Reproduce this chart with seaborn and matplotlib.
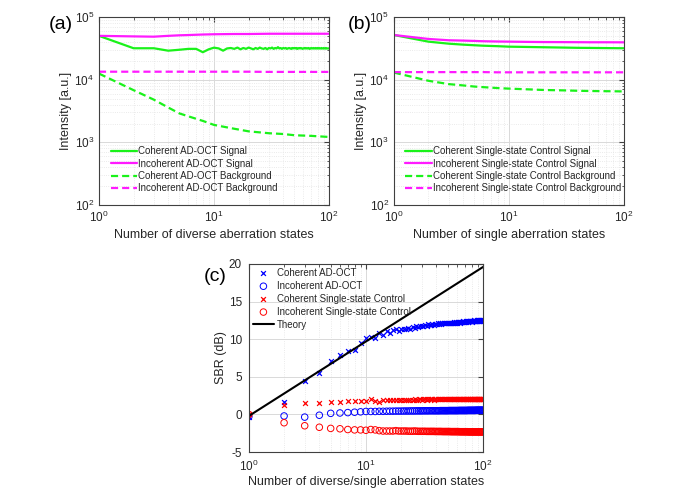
import numpy as np
import matplotlib
matplotlib.use("Agg")
import matplotlib.pyplot as plt
import seaborn as sns
from matplotlib.ticker import LogLocator, NullFormatter, MultipleLocator

# ---------------- data ----------------
# panel (a): diverse aberration states
n_a = list(range(1, 101))
coh_ad_signal = [
    5.0e4, 3.17e4, 3.17e4, 2.9e4, 3.0e4, 3.1e4, 3.1e4, 2.74e4, 3.05e4, 3.24e4,
    3.15e4, 2.9e4, 3.15e4, 3.2e4, 3.1e4, 3.25e4, 3.05e4, 3.2e4, 3.1e4, 3.25e4,
    3.15e4, 3.05e4, 3.2e4, 3.1e4, 3.25e4, 3.15e4, 3.1e4, 3.2e4, 3.05e4, 3.2e4,
    3.15e4, 3.25e4, 3.1e4, 3.2e4, 3.15e4, 3.3e4, 3.15e4, 3.2e4, 3.1e4, 3.2e4,
    3.15e4, 3.2e4, 3.1e4, 3.15e4, 3.2e4, 3.15e4, 3.1e4, 3.2e4, 3.15e4, 3.2e4,
    3.15e4, 3.2e4, 3.1e4, 3.15e4, 3.2e4, 3.15e4, 3.2e4, 3.15e4, 3.1e4, 3.15e4,
    3.2e4, 3.15e4, 3.2e4, 3.15e4, 3.15e4, 3.2e4, 3.15e4, 3.1e4, 3.15e4, 3.2e4,
    3.15e4, 3.15e4, 3.2e4, 3.15e4, 3.15e4, 3.2e4, 3.15e4, 3.15e4, 3.2e4, 3.15e4,
    3.15e4, 3.2e4, 3.15e4, 3.15e4, 3.15e4, 3.2e4, 3.15e4, 3.15e4, 3.15e4, 3.2e4,
    3.15e4, 3.15e4, 3.15e4, 3.2e4, 3.15e4, 3.15e4, 3.15e4, 3.15e4, 3.15e4, 3.15e4,
]
n_s = [1, 2, 3, 4, 5, 6, 8, 10, 15, 20, 30, 40, 50, 70, 100]
incoh_ad_signal = [5.0e4, 4.9e4, 4.85e4, 5.0e4, 5.1e4, 5.15e4, 5.25e4, 5.3e4,
                   5.35e4, 5.35e4, 5.4e4, 5.4e4, 5.4e4, 5.4e4, 5.4e4]
coh_ad_bg = [1.25e4, 6.8e3, 4.8e3, 3.6e3, 2.9e3, 2.6e3, 2.2e3, 1.9e3,
             1.65e3, 1.5e3, 1.4e3, 1.36e3, 1.3e3, 1.27e3, 1.22e3]
incoh_ad_bg = [1.34e4, 1.34e4, 1.34e4, 1.34e4, 1.34e4, 1.34e4, 1.34e4, 1.34e4,
               1.34e4, 1.34e4, 1.33e4, 1.33e4, 1.33e4, 1.33e4, 1.33e4]

# panel (b): single aberration states
coh_ss_signal = [5.16e4, 4.04e4, 3.75e4, 3.62e4, 3.54e4, 3.48e4, 3.42e4, 3.36e4,
                 3.32e4, 3.29e4, 3.25e4, 3.22e4, 3.21e4, 3.19e4, 3.17e4]
incoh_ss_signal = [5.16e4, 4.46e4, 4.25e4, 4.2e4, 4.15e4, 4.1e4, 4.06e4, 4.04e4,
                   4.0e4, 3.98e4, 3.97e4, 3.96e4, 3.95e4, 3.95e4, 3.94e4]
coh_ss_bg = [1.3e4, 9.6e3, 8.5e3, 8.1e3, 7.77e3, 7.6e3, 7.35e3, 7.2e3,
             7.0e3, 6.85e3, 6.75e3, 6.65e3, 6.6e3, 6.55e3, 6.5e3]
incoh_ss_bg = [1.32e4, 1.32e4, 1.32e4, 1.32e4, 1.32e4, 1.32e4, 1.31e4, 1.31e4,
               1.31e4, 1.31e4, 1.31e4, 1.31e4, 1.31e4, 1.31e4, 1.31e4]

# panel (c): SBR (dB)
n_c = list(range(1, 101))
sbr_coh_ad = [
    -0.35, 1.6, 4.4, 5.5, 7.1, 7.9, 8.4, 8.6, 9.5, 10.2,
    10.3, 10.1, 10.8, 10.6, 11.1, 10.8, 11.2, 11.3, 11.1, 11.3,
    11.4, 11.3, 11.5, 11.4, 11.6, 11.5, 11.7, 11.6, 11.8, 11.7,
    11.8, 11.9, 11.8, 12.0, 11.9, 11.9, 12.0, 11.9, 12.0, 12.0,
    12.1, 12.0, 12.1, 12.0, 12.1, 12.1, 12.2, 12.1, 12.2, 12.1,
    12.2, 12.2, 12.1, 12.2, 12.2, 12.3, 12.2, 12.2, 12.3, 12.2,
    12.3, 12.3, 12.2, 12.3, 12.3, 12.3, 12.3, 12.4, 12.3, 12.3,
    12.4, 12.3, 12.4, 12.4, 12.3, 12.4, 12.4, 12.4, 12.4, 12.3,
    12.4, 12.4, 12.4, 12.5, 12.4, 12.4, 12.4, 12.5, 12.4, 12.4,
    12.5, 12.4, 12.5, 12.4, 12.5, 12.5, 12.4, 12.5, 12.5, 12.4,
]
sbr_incoh_ad = [
    -0.3, -0.2, -0.35, -0.1, 0.15, 0.2, 0.25, 0.3, 0.35, 0.4,
    0.4, 0.4, 0.42, 0.42, 0.43, 0.44, 0.44, 0.45, 0.45, 0.45,
    0.46, 0.46, 0.46, 0.47, 0.47, 0.47, 0.48, 0.48, 0.48, 0.48,
    0.49, 0.49, 0.49, 0.49, 0.5, 0.5, 0.5, 0.5, 0.5, 0.5,
    0.5, 0.5, 0.51, 0.51, 0.51, 0.51, 0.51, 0.51, 0.51, 0.51,
    0.52, 0.52, 0.52, 0.52, 0.52, 0.52, 0.52, 0.52, 0.52, 0.52,
    0.52, 0.53, 0.53, 0.53, 0.53, 0.53, 0.53, 0.53, 0.53, 0.53,
    0.53, 0.53, 0.53, 0.54, 0.54, 0.54, 0.54, 0.54, 0.54, 0.54,
    0.54, 0.54, 0.54, 0.54, 0.54, 0.54, 0.55, 0.55, 0.55, 0.55,
    0.55, 0.55, 0.55, 0.55, 0.55, 0.55, 0.55, 0.55, 0.55, 0.55,
]
sbr_coh_ss = [
    0.1, 1.2, 1.5, 1.5, 1.7, 1.7, 1.8, 1.8, 1.85, 1.8,
    2.0, 1.8, 1.7, 1.95, 1.9, 1.9, 1.95, 1.9, 1.95, 1.95,
    1.95, 1.9, 1.95, 1.95, 1.95, 2.0, 1.95, 1.95, 2.0, 1.95,
    2.0, 2.0, 1.95, 2.0, 2.0, 2.0, 2.0, 1.95, 2.0, 2.0,
    2.0, 2.0, 2.0, 2.0, 2.0, 2.0, 2.05, 2.0, 2.0, 2.0,
    2.0, 2.05, 2.0, 2.0, 2.0, 2.05, 2.0, 2.0, 2.05, 2.0,
    2.05, 2.0, 2.05, 2.0, 2.05, 2.05, 2.0, 2.05, 2.05, 2.05,
    2.05, 2.05, 2.05, 2.0, 2.05, 2.05, 2.05, 2.05, 2.05, 2.05,
    2.05, 2.05, 2.05, 2.05, 2.05, 2.05, 2.05, 2.05, 2.05, 2.05,
    2.05, 2.05, 2.05, 2.05, 2.05, 2.05, 2.05, 2.05, 2.05, 2.05,
]
sbr_incoh_ss = [
    0.0, -1.1, -1.5, -1.7, -1.85, -1.9, -2.0, -2.05, -2.05, -2.1,
    -2.0, -2.05, -2.15, -2.2, -2.2, -2.2, -2.2, -2.15, -2.2, -2.2,
    -2.2, -2.2, -2.22, -2.22, -2.22, -2.2, -2.22, -2.24, -2.24, -2.24,
    -2.24, -2.24, -2.25, -2.25, -2.25, -2.25, -2.25, -2.25, -2.26, -2.26,
    -2.26, -2.26, -2.26, -2.26, -2.27, -2.27, -2.27, -2.27, -2.27, -2.27,
    -2.27, -2.27, -2.28, -2.28, -2.28, -2.28, -2.28, -2.28, -2.28, -2.28,
    -2.28, -2.28, -2.29, -2.29, -2.29, -2.29, -2.29, -2.29, -2.29, -2.29,
    -2.29, -2.29, -2.29, -2.29, -2.3, -2.3, -2.3, -2.3, -2.3, -2.3,
    -2.3, -2.3, -2.3, -2.3, -2.3, -2.3, -2.3, -2.3, -2.3, -2.3,
    -2.3, -2.3, -2.3, -2.3, -2.3, -2.3, -2.3, -2.3, -2.3, -2.3,
]
theory_n = [1, 100]
theory_sbr = [-0.2, 19.6]

# ---------------- style ----------------
sns.set_style("white")
plt.rcParams["font.family"] = ["Liberation Sans", "DejaVu Sans"]
plt.rcParams["mathtext.fontset"] = "custom"
plt.rcParams["mathtext.rm"] = "Liberation Sans"
plt.rcParams["mathtext.it"] = "Liberation Sans:italic"
plt.rcParams["axes.unicode_minus"] = False

GREEN = (0.1, 0.95, 0.1)
MAGENTA = (1.0, 0.1, 1.0)
DASH = (0, (3.2, 1.8))
AX_COL = "#404040"

fig = plt.figure(figsize=(6.97, 4.99), dpi=100)
ax_a = fig.add_axes([0.142, 0.589, 0.330, 0.377])
ax_b = fig.add_axes([0.565, 0.589, 0.330, 0.377])
ax_c = fig.add_axes([0.357, 0.094, 0.336, 0.377])


def matlab_axes(ax, logy=True):
    ax.set_xscale("log")
    if logy:
        ax.set_yscale("log")
    ax.grid(True, which="major", color="#d9d9d9", lw=0.7)
    ax.grid(True, which="minor", color="#e3e3e3", lw=0.6, ls=":")
    ax.tick_params(which="both", direction="in", top=True, right=True,
                   colors=AX_COL, labelcolor="#262626", labelsize=8.5)
    ax.tick_params(which="major", length=3.5)
    ax.tick_params(which="minor", length=1.8)
    for s in ax.spines.values():
        s.set_color(AX_COL)
        s.set_linewidth(0.8)
    ax.set_axisbelow(True)


# ---------- (a) ----------
sns.lineplot(x=n_a, y=coh_ad_signal, ax=ax_a, color=GREEN, lw=1.6,
             label="Coherent AD-OCT Signal")
sns.lineplot(x=n_s, y=incoh_ad_signal, ax=ax_a, color=MAGENTA, lw=1.6,
             label="Incoherent AD-OCT Signal")
sns.lineplot(x=n_s, y=coh_ad_bg, ax=ax_a, color=GREEN, lw=1.6, ls=DASH,
             label="Coherent AD-OCT Background")
sns.lineplot(x=n_s, y=incoh_ad_bg, ax=ax_a, color=MAGENTA, lw=1.6, ls=DASH,
             label="Incoherent AD-OCT Background")

# ---------- (b) ----------
sns.lineplot(x=n_s, y=coh_ss_signal, ax=ax_b, color=GREEN, lw=1.6,
             label="Coherent Single-state Control Signal")
sns.lineplot(x=n_s, y=incoh_ss_signal, ax=ax_b, color=MAGENTA, lw=1.6,
             label="Incoherent Single-state Control Signal")
sns.lineplot(x=n_s, y=coh_ss_bg, ax=ax_b, color=GREEN, lw=1.6, ls=DASH,
             label="Coherent Single-state Control Background")
sns.lineplot(x=n_s, y=incoh_ss_bg, ax=ax_b, color=MAGENTA, lw=1.6, ls=DASH,
             label="Incoherent Single-state Control Background")

for ax, xl, tag, tx in [(ax_a, "Number of diverse aberration states", "(a)", -0.165),
                        (ax_b, "Number of single aberration states", "(b)", -0.148)]:
    matlab_axes(ax)
    ax.set_xlim(1, 100)
    ax.set_ylim(1e2, 1e5)
    ax.yaxis.set_major_locator(LogLocator(base=10, numticks=10))
    ax.yaxis.set_minor_locator(LogLocator(base=10, subs=np.arange(2, 10), numticks=10))
    ax.yaxis.set_minor_formatter(NullFormatter())
    ax.xaxis.set_minor_formatter(NullFormatter())
    ax.set_xlabel(xl, fontsize=9, color="#262626", labelpad=3)
    ax.set_ylabel("Intensity [a.u.]", fontsize=9, color="#262626", labelpad=2)
    ax.text(tx, 0.96, tag, transform=ax.transAxes, fontsize=14,
            ha="center", va="center", color="black")
    ax.legend(loc="lower left", bbox_to_anchor=(0.0, 0.0), frameon=False,
              fontsize=7, handlelength=2.7, handletextpad=0.15,
              labelspacing=0.25, borderaxespad=0.9, borderpad=0.3)

# ---------- (c) ----------
sns.scatterplot(x=n_c, y=sbr_coh_ad, ax=ax_c, marker="x", color="blue",
                s=12, linewidth=0.9, label="Coherent AD-OCT")
sns.scatterplot(x=n_c, y=sbr_incoh_ad, ax=ax_c, marker="o", facecolor="none",
                edgecolor="blue", s=22, linewidth=0.7, label="Incoherent AD-OCT")
sns.scatterplot(x=n_c, y=sbr_coh_ss, ax=ax_c, marker="x", color="red",
                s=12, linewidth=0.9, label="Coherent Single-state Control")
sns.scatterplot(x=n_c, y=sbr_incoh_ss, ax=ax_c, marker="o", facecolor="none",
                edgecolor="red", s=22, linewidth=0.7,
                label="Incoherent Single-state Control")
sns.lineplot(x=theory_n, y=theory_sbr, ax=ax_c, color="black", lw=1.5,
             label="Theory")

matlab_axes(ax_c, logy=False)
ax_c.set_xlim(1, 100)
ax_c.set_ylim(-5, 20)
ax_c.yaxis.set_major_locator(MultipleLocator(5))
ax_c.xaxis.set_minor_formatter(NullFormatter())
ax_c.grid(False, which="minor", axis="y")
ax_c.tick_params(axis="y", pad=5)
ax_c.tick_params(axis="x", pad=4.5)
ax_c.set_xlabel("Number of diverse/single aberration states", fontsize=9,
                color="#262626", labelpad=2)
ax_c.set_ylabel("SBR (dB)", fontsize=9, color="#262626", labelpad=1)
ax_c.text(-0.145, 0.936, "(c)", transform=ax_c.transAxes, fontsize=14,
          ha="center", va="center", color="black")
ax_c.legend(loc="upper left", frameon=False, fontsize=7, handlelength=2.2,
            handletextpad=0.3, labelspacing=0.3, borderaxespad=0.2,
            borderpad=0.2)

fig.savefig("out.png", dpi=100)
